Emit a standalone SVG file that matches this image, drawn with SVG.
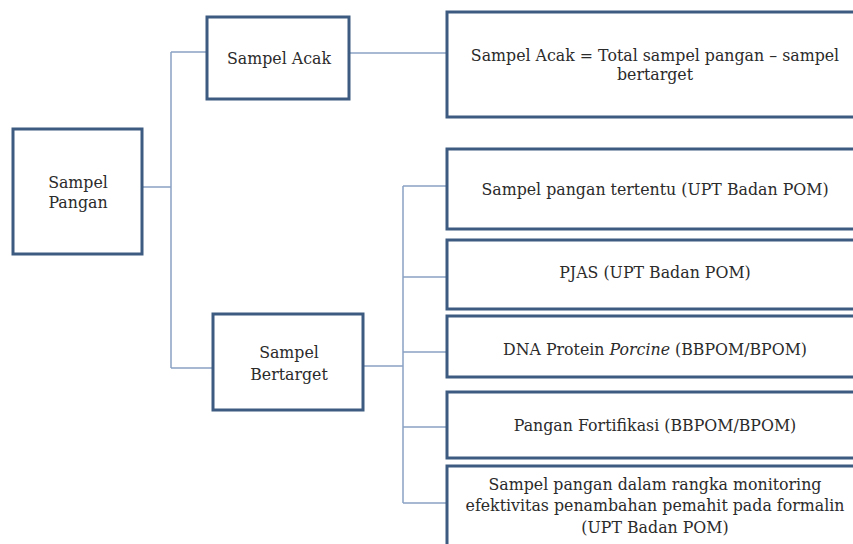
<svg xmlns="http://www.w3.org/2000/svg" width="853" height="544" viewBox="0 0 853 544">
<style>
.box{fill:#fff;stroke:#3d5a80;stroke-width:3}
.con{fill:none;stroke:#8aa2c4;stroke-width:1.5}
text{font-family:"DejaVu Serif","Liberation Serif",serif;font-size:15.8px;fill:#2b2b2b;text-anchor:middle}
</style>
<rect width="853" height="544" fill="#fff"/>
<g id="connectors">
<path class="con" d="M142 187H171M171 52V368M171 52H207M171 368H213"/>
<path class="con" d="M349 53H447"/>
<path class="con" d="M363 366H403M403 186V503M403 186H447M403 277H447M403 352H447M403 427H447M403 503H447"/>
</g>
<g id="sampel-pangan"><rect class="box" x="13" y="129" width="129" height="125"/><text x="78" y="188">Sampel</text><text x="78" y="208">Pangan</text></g>
<g id="sampel-acak"><rect class="box" x="207" y="17" width="142" height="82"/><text x="279" y="64">Sampel Acak</text></g>
<g id="sampel-bertarget"><rect class="box" x="213" y="314" width="150" height="96"/><text x="289" y="358">Sampel</text><text x="289" y="380">Bertarget</text></g>
<g id="acak-rumus"><rect class="box" x="447" y="12" width="412" height="105"/><text x="655" y="61">Sampel Acak = Total sampel pangan – sampel</text><text x="655" y="80">bertarget</text></g>
<g id="pangan-tertentu"><rect class="box" x="447" y="149" width="412" height="80"/><text x="655" y="195">Sampel pangan tertentu (UPT Badan POM)</text></g>
<g id="pjas"><rect class="box" x="447" y="240" width="412" height="69"/><text x="655" y="278">PJAS (UPT Badan POM)</text></g>
<g id="dna"><rect class="box" x="447" y="316" width="412" height="61"/><text x="655" y="355">DNA Protein <tspan font-style="italic">Porcine</tspan> (BBPOM/BPOM)</text></g>
<g id="fortifikasi"><rect class="box" x="447" y="392" width="412" height="66"/><text x="655" y="431">Pangan Fortifikasi (BBPOM/BPOM)</text></g>
<g id="formalin"><rect class="box" x="447" y="466" width="412" height="90"/><text x="655" y="490">Sampel pangan dalam rangka monitoring</text><text x="655" y="511">efektivitas penambahan pemahit pada formalin</text><text x="655" y="533">(UPT Badan POM)</text></g>
</svg>
